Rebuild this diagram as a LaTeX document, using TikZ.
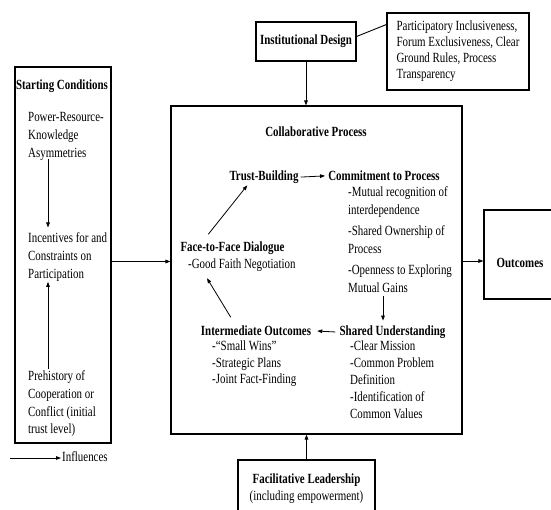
\documentclass[tikz,border=0pt]{standalone}
\usepackage{fontspec}
\setmainfont{Liberation Serif}[FakeStretch=0.78]
\usetikzlibrary{arrows.meta}
\newcommand\fs{\fontsize{14}{17}\selectfont}
\newcommand\hs{\rule{0pt}{11pt}}
\begin{document}
\begin{tikzpicture}[x=1pt,y=-1pt,
  box/.style={draw, line width=1.1pt, inner sep=0pt},
  txt/.style={inner sep=0pt, font=\fs},
  btxt/.style={inner sep=0pt, font=\fs\bfseries},
  blk/.style={inner sep=0pt, align=left, anchor=north west},
  arr/.style={line width=0.8pt, -{Triangle[length=5pt,width=3.6pt]}},
  ln/.style={line width=0.9pt}]
\useasboundingbox (0,0) rectangle (551,510);
\clip (0,0) rectangle (551,510);
\fill[white] (0,0) rectangle (551,510);

% ---- boxes ----
\node[box, minimum width=96pt, minimum height=376pt] (sc) at (63,255) {};
\node[box, minimum width=100pt, minimum height=39pt, font=\fs\bfseries] (id) at (306,41.5) {Institutional Design};
\node[box, minimum width=142pt, minimum height=77pt, align=left,
      font=\fontsize{14}{16}\selectfont] (part) at (458,51.5)
      {Participatory Inclusiveness,\\Forum Exclusiveness, Clear\\Ground Rules, Process\\Transparency};
\node[box, minimum width=291pt, minimum height=328pt] (cp) at (316.5,270) {};
\node[box, minimum width=72pt, minimum height=89pt, font=\fs\bfseries, text height=30pt, text depth=3pt] (out) at (520,254.5) {Outcomes};
\node[box, minimum width=137pt, minimum height=57pt, align=center, font=\fontsize{14}{17}\selectfont] (fl) at (306.5,488.5)
      {\textbf{Facilitative Leadership}\\(including empowerment)};

% ---- starting conditions ----
\node[btxt, anchor=base] (sct) at (62,89.5) {Starting Conditions};
\node[blk, font=\fontsize{14}{18}\selectfont] (sc1) at (28,110.5) {\hs Power-Resource-\\Knowledge\\Asymmetries};
\node[blk, font=\fontsize{14}{18}\selectfont] (sc2) at (28,231.5) {\hs Incentives for and\\Constraints on\\Participation};
\node[blk, font=\fontsize{14}{17.7}\selectfont] (sc3) at (28,369.5) {\hs Prehistory of\\Cooperation or\\Conflict (initial\\trust level)};
\coordinate (ax1) at (48,0);
\draw[arr, shorten <=-2pt, shorten >=4pt] (sc1.south -| ax1) -- (sc2.north -| ax1);
\draw[arr, shorten <=1pt, shorten >=0pt] (sc3.north -| ax1) -- (sc2.south -| ax1);

% ---- collaborative process ----
\node[btxt, anchor=base] (cpt) at (316,136.5) {Collaborative Process};
\node[btxt, anchor=base] (tb) at (264,180.5) {Trust-Building};
\node[btxt, anchor=base] (cm) at (384,180.5) {Commitment to Process};
\node[blk, font=\fontsize{14}{18}\selectfont] (cml) at (348,185.5)
  {\hs-Mutual recognition of\\interdependence\\[3pt]-Shared Ownership of\\Process\\[3pt]-Openness to Exploring\\Mutual Gains};
\node[btxt, anchor=base] (su) at (392.5,335.5) {Shared Understanding};
\node[blk, font=\fontsize{14}{17}\selectfont] (sul) at (350,339.5)
  {\hs-Clear Mission\\-Common Problem\\Definition\\-Identification of\\Common Values};
\node[btxt, anchor=base] (io) at (256,335.5) {Intermediate Outcomes};
\node[blk, font=\fontsize{14}{16.5}\selectfont] (iol) at (212,339.5)
  {\hs-“Small Wins”\\-Strategic Plans\\-Joint Fact-Finding};
\node[btxt, anchor=base] (ff) at (232.5,251.5) {Face-to-Face Dialogue};
\node[txt, anchor=base west] (gf) at (188,268.5) {-Good Faith Negotiation};

\coordinate (ax2) at (383,0);
\draw[arr, shorten <=2pt, shorten >=3pt] (tb.east) -- (cm.west);
\draw[arr, shorten <=3pt, shorten >=5pt] (cml.south -| ax2) -- (su.north -| ax2);
\draw[arr, shorten <=4pt, shorten >=6pt] (su.west) -- (io.east);
\draw[arr] ([xshift=30pt,yshift=8.3pt]io.north west) -- ([xshift=19pt,yshift=-6.5pt]gf.south west);
\draw[arr] ([xshift=28pt,yshift=7.3pt]ff.north west) -- ([xshift=18pt,yshift=-1.5pt]tb.south west);

% ---- main connectors ----
\draw[arr] ([yshift=-6.5pt]sc.east) -- ([yshift=8.5pt]cp.west);
\draw[arr] ([yshift=9pt]cp.east) -- ([yshift=-6.5pt]out.west);
\draw[arr] (id.south) -- (id.south |- cp.north);
\draw[arr] (fl.north) -- (fl.north |- cp.south);
\draw[ln] ([yshift=5pt]id.east) -- ([yshift=27pt]part.west);

% ---- legend ----
\coordinate (lg) at (10,458);
\node[txt, anchor=base west] (infl) at (62,461.5) {Influences};
\draw[arr, shorten >=1pt] (lg) -- (lg -| infl.west);
\end{tikzpicture}
\end{document}
